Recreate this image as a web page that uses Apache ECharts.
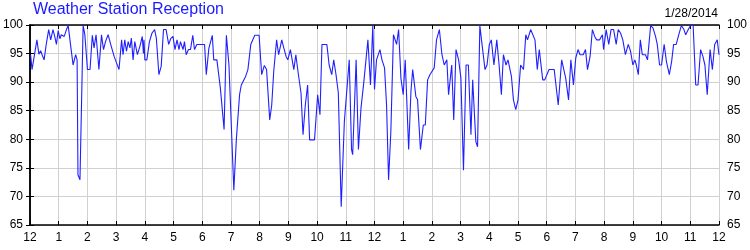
<!DOCTYPE html>
<html><head><meta charset="utf-8">
<script src="https://cdn.jsdelivr.net/npm/echarts@6/dist/echarts.min.js"></script>
<style>html,body{margin:0;padding:0;background:#fff}#c{width:750px;height:250px}</style>
</head><body><div id="c"></div>
<script>
var titleText = 'Weather Station Reception';
var dateText = '1/28/2014';
var tickLabels = ['12','1','2','3','4','5','6','7','8','9','10','11','12','1','2','3','4','5','6','7','8','9','10','11','12'];
var yTicks = [65,70,75,80,85,90,95,100];
// time in months since the first tick
var times = [0.02,0.07,0.24,0.31,0.37,0.42,0.49,0.57,0.65,0.72,0.80,0.86,0.92,0.98,1.04,1.09,1.19,1.27,1.33,1.41,1.50,1.59,1.64,1.67,1.71,1.74,1.85,1.91,2.00,2.09,2.17,2.23,2.30,2.40,2.49,2.56,2.63,2.72,2.81,2.93,3.10,3.19,3.24,3.30,3.36,3.42,3.48,3.53,3.59,3.65,3.74,3.83,3.91,3.95,3.97,4.00,4.07,4.16,4.25,4.34,4.40,4.49,4.57,4.65,4.74,4.83,4.90,4.98,5.05,5.12,5.19,5.24,5.33,5.38,5.44,5.52,5.59,5.67,5.73,5.81,6.08,6.14,6.23,6.35,6.40,6.51,6.63,6.76,6.84,6.93,6.99,7.10,7.19,7.30,7.36,7.51,7.59,7.69,7.83,7.98,8.07,8.16,8.24,8.35,8.42,8.49,8.59,8.66,8.77,8.84,8.92,8.98,9.07,9.19,9.26,9.35,9.44,9.51,9.59,9.67,9.74,9.91,10.02,10.10,10.17,10.34,10.42,10.51,10.58,10.66,10.74,10.84,10.95,11.12,11.20,11.24,11.36,11.44,11.53,11.63,11.77,11.86,11.94,12.00,12.07,12.19,12.26,12.35,12.42,12.49,12.57,12.66,12.77,12.84,12.92,13.00,13.07,13.19,13.27,13.33,13.44,13.50,13.60,13.70,13.77,13.85,13.93,13.99,14.08,14.16,14.26,14.35,14.43,14.52,14.58,14.69,14.76,14.84,14.93,15.01,15.10,15.19,15.27,15.36,15.42,15.53,15.59,15.67,15.76,15.85,15.92,16.00,16.07,16.16,16.26,16.34,16.42,16.49,16.58,16.65,16.77,16.84,16.92,17.00,17.09,17.19,17.27,17.33,17.44,17.59,17.67,17.74,17.86,17.93,18.08,18.26,18.40,18.52,18.66,18.76,18.84,18.93,19.01,19.09,19.16,19.27,19.35,19.42,19.51,19.59,19.67,19.74,19.84,19.94,19.98,20.07,20.16,20.24,20.33,20.42,20.49,20.57,20.65,20.74,20.84,20.92,21.00,21.07,21.12,21.19,21.26,21.33,21.44,21.51,21.62,21.70,21.79,21.85,21.93,22.00,22.09,22.17,22.27,22.35,22.42,22.51,22.60,22.69,22.78,22.84,22.93,23.01,23.10,23.19,23.27,23.36,23.44,23.51,23.59,23.69,23.77,23.85,23.94,24.00];
var reception = [94.8,92.2,97.4,94.9,95.5,94.8,93.9,96.8,99.2,97.4,99.2,98.0,96.6,99.0,97.6,98.3,98.0,99.2,99.9,96.6,93.0,94.8,93.9,73.8,73.5,72.9,99.9,98.3,92.2,92.2,98.2,96.0,98.3,92.2,98.3,95.7,97.1,98.3,96.6,94.5,92.2,97.4,94.8,97.4,95.4,97.1,96.0,97.7,93.9,97.1,94.8,96.3,98.0,95.0,97.4,93.9,93.9,97.1,98.6,99.2,97.7,91.3,92.8,99.2,99.2,96.6,97.6,98.0,95.7,97.4,95.7,97.1,95.7,97.1,94.8,95.7,95.7,98.2,95.7,96.6,96.6,91.3,95.9,98.2,93.9,93.9,89.0,81.7,98.2,93.0,93.0,71.1,80.2,87.8,89.5,91.0,92.2,96.6,98.2,98.2,91.3,92.9,92.2,83.4,86.0,91.9,97.4,94.8,97.4,96.0,94.5,93.9,95.7,92.2,94.8,91.3,88.1,80.8,86.0,89.5,79.9,79.9,87.8,84.3,96.6,96.6,93.0,91.3,93.9,91.3,88.1,68.2,83.1,93.9,78.2,77.3,93.9,78.2,85.5,90.1,97.4,89.5,99.9,88.7,93.9,95.7,93.9,92.5,86.0,72.9,81.4,98.3,96.6,99.2,90.7,87.8,93.9,78.2,88.4,92.2,87.5,86.9,78.2,82.5,82.5,90.4,91.3,91.3,92.5,97.4,99.2,94.8,93.0,93.9,87.8,93.0,83.4,95.7,93.9,90.7,74.6,93.0,93.0,80.8,90.4,79.6,78.7,99.9,96.0,92.2,93.0,96.6,97.4,93.0,97.4,93.0,87.8,94.8,93.0,93.9,91.0,86.9,85.2,86.9,93.0,92.2,98.3,97.4,99.2,97.4,92.2,95.7,90.4,90.4,92.2,92.2,86.0,93.9,90.7,86.9,93.9,89.5,94.2,95.7,94.8,94.8,95.7,92.2,94.5,99.2,98.0,97.4,97.4,98.3,95.7,99.2,96.6,99.2,99.2,96.6,99.2,98.6,97.4,94.8,96.6,95.4,93.0,93.9,93.0,91.3,97.4,94.8,94.8,93.9,99.9,99.5,98.0,96.6,93.0,93.0,96.6,93.6,91.3,93.6,96.6,96.6,98.3,99.9,99.2,98.3,99.2,99.9,99.9,89.5,89.5,95.7,94.5,93.0,87.8,95.7,92.2,96.6,97.4,94.8];

var FONT = '"Liberation Sans", Arial, sans-serif';
var data = times.map(function (t, i) { return [t, reception[i]]; });
var chart = echarts.init(document.getElementById('c'), null, {renderer: 'canvas'});
var axisLine = {show: true, lineStyle: {color: '#000', width: 1.5}};
var tick = {show: true, inside: true, length: 4, lineStyle: {color: '#000', width: 1}};
var grid = {show: true, lineStyle: {color: '#d0d0d0', width: 1}};
chart.setOption({
  animation: false,
  backgroundColor: '#fff',
  title: [
    {text: titleText, left: 33, top: 2, padding: 0,
     textStyle: {color: '#1a1aff', fontSize: 16, fontWeight: 'normal', fontFamily: FONT}},
    {text: dateText, right: 32, top: 8, padding: 0,
     textStyle: {color: '#000', fontSize: 12, fontWeight: 'normal', fontFamily: FONT}}
  ],
  grid: {left: 30, right: 30, top: 25, bottom: 25, containLabel: false},
  xAxis: [
    {type: 'value', min: 0, max: 24, interval: 1, position: 'bottom',
     axisLine: axisLine, axisTick: tick, splitLine: grid,
     axisLabel: {color: '#000', fontSize: 12, fontFamily: FONT, margin: 7,
       formatter: function (v) { return tickLabels[Math.round(v)]; }}},
    {type: 'value', min: 0, max: 24, interval: 1, position: 'top',
     axisLine: axisLine, axisTick: tick, splitLine: {show: false}, axisLabel: {show: false}}
  ],
  yAxis: [
    {type: 'value', min: yTicks[0], max: yTicks[yTicks.length - 1], interval: 5, position: 'left',
     axisLine: axisLine, axisTick: tick, splitLine: grid,
     axisLabel: {color: '#000', fontSize: 12, fontFamily: FONT, margin: 7}},
    {type: 'value', min: yTicks[0], max: yTicks[yTicks.length - 1], interval: 5, position: 'right',
     axisLine: axisLine, axisTick: tick, splitLine: {show: false},
     axisLabel: {color: '#000', fontSize: 12, fontFamily: FONT, margin: 8}}
  ],
  series: [{
    type: 'line', xAxisIndex: 0, yAxisIndex: 0, data: data,
    showSymbol: false, symbol: 'none', clip: true,
    lineStyle: {color: '#2020ff', width: 1.1}
  }]
});
</script></body></html>
